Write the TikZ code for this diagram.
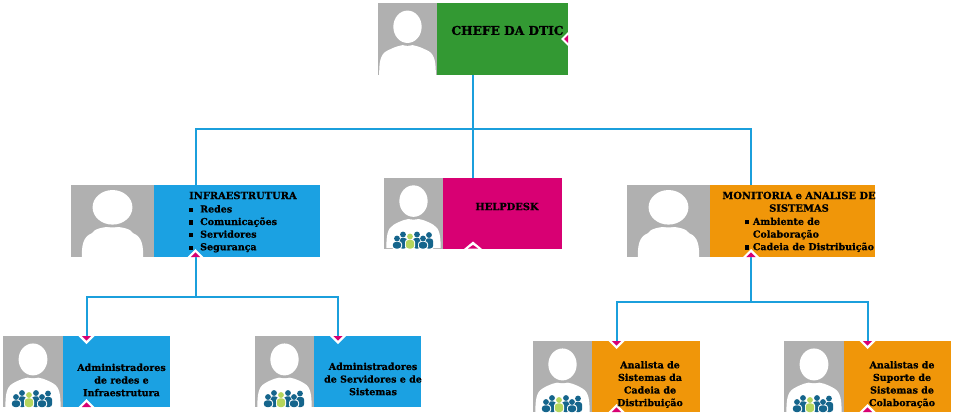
\documentclass[tikz,border=0pt]{standalone}
\usepackage{fontspec}
\setmainfont{DejaVu Serif}[BoldFeatures={FakeBold=0.8}]
\usetikzlibrary{fit}
\definecolor{cgreen}{HTML}{339933}
\definecolor{cblue}{HTML}{1BA1E2}
\definecolor{cmag}{HTML}{D80073}
\definecolor{corange}{HTML}{F09609}
\definecolor{cgray}{HTML}{B0B0B0}
\definecolor{cline}{HTML}{1B9FDC}
\definecolor{cteal}{HTML}{15658C}
\definecolor{clime}{HTML}{B5D55C}
\tikzset{
  x=1pt,y=-1pt,
  outer/.style={inner sep=0pt,outer sep=0pt},
  tile/.style={inner sep=0pt,outer sep=0pt,fill=#1},
  conn/.style={draw=cline,line width=2pt},
  lbl/.style={font=\fontsize{9.5}{12.6}\selectfont\bfseries,text=black,inner sep=0pt,align=center},
  lblleft/.style={lbl,align=left},
  lbltitle/.style={lbl,font=\fontsize{9.9}{12.6}\selectfont\bfseries},
  lblchief/.style={lbl,font=\fontsize{12.2}{14}\selectfont\bfseries},
}
\newcommand\orgcard[7]{%
  \node[tile=cgray,fit={(#2,#4)(#6,#5)}] (#1photo) {};
  \node[tile=#7,fit={(#6,#4)(#3,#5)}] (#1body) {};
  \node[outer,fit={(#2,#4)(#3,#5)}] (#1) {};
}
% person silhouette in a 100x100 unit box: x0,y0,width,height,inset,head centre y,head y radius
\newcommand\silhouette[7]{%
  \begin{scope}[shift={(#1,#2)},xscale=#3/100,yscale=#4/100]
    \fill[white] (#5,100) .. controls (#5,85) and (#5+1,72) .. (#5+12,67)
      .. controls (28,61) and (38,58) .. (50,58)
      .. controls (62,58) and (72,61) .. (88-#5,67)
      .. controls (99-#5,72) and (100-#5,85) .. (100-#5,100) -- cycle;
    \fill[cgray] (50,#6) ellipse [x radius=27,y radius=#7+4];
    \fill[white] (50,#6) ellipse [x radius=24,y radius=#7];
  \end{scope}
}
% one team member: x, head y, colour; bodies end at y=14
\newcommand\fig[3]{%
  \fill[white] (#1,#2) circle [radius=3.6];
  \fill[white,rounded corners=3pt] (#1-5,#2+2.6) rectangle (#1+5,15);
  \fill[#3] (#1,#2) circle [radius=2.9];
  \fill[#3,rounded corners=3pt] (#1-4.2,#2+3.4) rectangle (#1+4.2,14);
}
\newcommand\team[2]{%
  \begin{scope}[shift={(#1,#2)}]
    \fig{6}{0}{cteal}\fig{20}{0}{cteal}\fig{32}{0.5}{cteal}
    \fig{0}{4}{cteal}\fig{26}{4}{cteal}
    \fig{13}{2}{clime}
  \end{scope}
}
\newcommand\markdown[1]{%
  \fill[white] ([xshift=-8pt]#1) -- ([xshift=8pt]#1) -- ([yshift=-8pt]#1) -- cycle;
  \fill[cmag] ([xshift=-4.6pt]#1) -- ([xshift=4.6pt]#1) -- ([yshift=-4.6pt]#1) -- cycle;
}
\newcommand\markup[1]{%
  \fill[white] ([xshift=-8pt]#1) -- ([xshift=8pt]#1) -- ([yshift=8pt]#1) -- cycle;
  \fill[cmag] ([xshift=-4.6pt]#1) -- ([xshift=4.6pt]#1) -- ([yshift=4.6pt]#1) -- cycle;
}
\newcommand\bul[1]{\rule[0.5pt]{4.2pt}{4.2pt}\hspace{#1}}
\begin{document}
\begin{tikzpicture}
\useasboundingbox (0,0) rectangle (953,415);
\fill[white] (0,0) rectangle (953,415);

% cards
\orgcard{chief}{378}{568}{3}{75}{437}{cgreen}
\orgcard{infra}{71}{320}{185}{257}{154}{cblue}
\orgcard{help}{384}{562}{178}{248.5}{443}{cmag}
\orgcard{mon}{627}{875}{185}{257}{710}{corange}
\orgcard{adma}{3}{170}{336}{407}{63}{cblue}
\orgcard{admb}{255}{421}{336}{407}{314}{cblue}
\orgcard{anaa}{533}{700}{341}{412}{592}{corange}
\orgcard{anab}{784}{951}{341}{412}{844}{corange}

% photos
\silhouette{378}{3}{59}{72}{2}{33}{22.5}
\silhouette{71}{185}{83}{72}{13}{31}{24}
\silhouette{627}{185}{83}{72}{13}{31}{24}
\silhouette{384}{178}{59}{70}{4}{33}{22.5}
\silhouette{3}{336}{60}{71}{4}{33}{22.5}
\silhouette{255}{336}{59}{71}{4}{33}{22.5}
\silhouette{533}{341}{59}{71}{4}{33}{22.5}
\silhouette{784}{341}{60}{71}{4}{33}{22.5}
\team{397}{234.5}
\team{16}{393}
\team{268}{393}
\team{546}{398}
\team{797}{398}

% connectors
\coordinate (busa) at (473,129);
\coordinate (busb) at (195.5,297);
\coordinate (busc) at (751,302);
\draw[conn] (chief.south) -- (busa);
\draw[conn] (busa) -- (help.north);
\draw[conn] (busa) -| (infra.north);
\draw[conn] (busa) -| (mon.north);
\draw[conn] (infra.south) -- (busb);
\draw[conn] (busb) -| (adma.north);
\draw[conn] (busb) -| (admb.north);
\draw[conn] (mon.south) -- (busc);
\draw[conn] (busc) -| (anaa.north);
\draw[conn] (busc) -| (anab.north);

% marks
\fill[white] (561,39) -- (569,31) -- (569,47) -- cycle;
\fill[cmag] (564,39) -- (568,35) -- (568,43) -- cycle;
\fill[white] (464,249) -- (473,241.5) -- (482,249) -- cycle;
\fill[cmag] (468,248.5) -- (473,245) -- (478,248.5) -- cycle;
\markup{infra.south}
\markup{mon.south}
\markdown{adma.north}
\markdown{admb.north}
\markup{adma.south}
\markdown{anaa.north}
\markup{anaa.south}
\markdown{anab.north}
\markup{anab.south}

% texts
\node[lblchief] (tchief) at (507.5,30.5) {CHEFE DA DTIC};
\node[lbltitle,anchor=north west] (tinfrah) at (189,191.5) {INFRAESTRUTURA};
\node[lblleft,anchor=north west] (tinfra) at (189,205) {\bul{6.8pt}Redes\\\bul{6.8pt}Comunicações\\\bul{6.8pt}Servidores\\\bul{6.8pt}Segurança};
\node[lbltitle] (thelp) at (507,206.5) {HELPDESK};
\node[lbltitle,anchor=north] (tmon) at (799,191.5) {MONITORIA e ANALISE DE\\SISTEMAS};
\node[lblleft,anchor=north west] (tmonb) at (745,217.5) {\bul{3.5pt}Ambiente de\\\hspace{7.7pt}Colaboração\\\bul{3.5pt}Cadeia de Distribuição};
\node[lbl] (tadma) at (121.5,380) {Administradores\\de redes e\\Infraestrutura};
\node[lbl] (tadmb) at (373,379) {Administradores\\de Servidores e de\\Sistemas};
\node[lbl] (tanaa) at (650,384.5) {Analista de\\Sistemas da\\Cadeia de\\Distribuição};
\node[lbl] (tanab) at (902,384.5) {Analistas de\\Suporte de\\Sistemas de\\Colaboração};
\end{tikzpicture}
\end{document}
